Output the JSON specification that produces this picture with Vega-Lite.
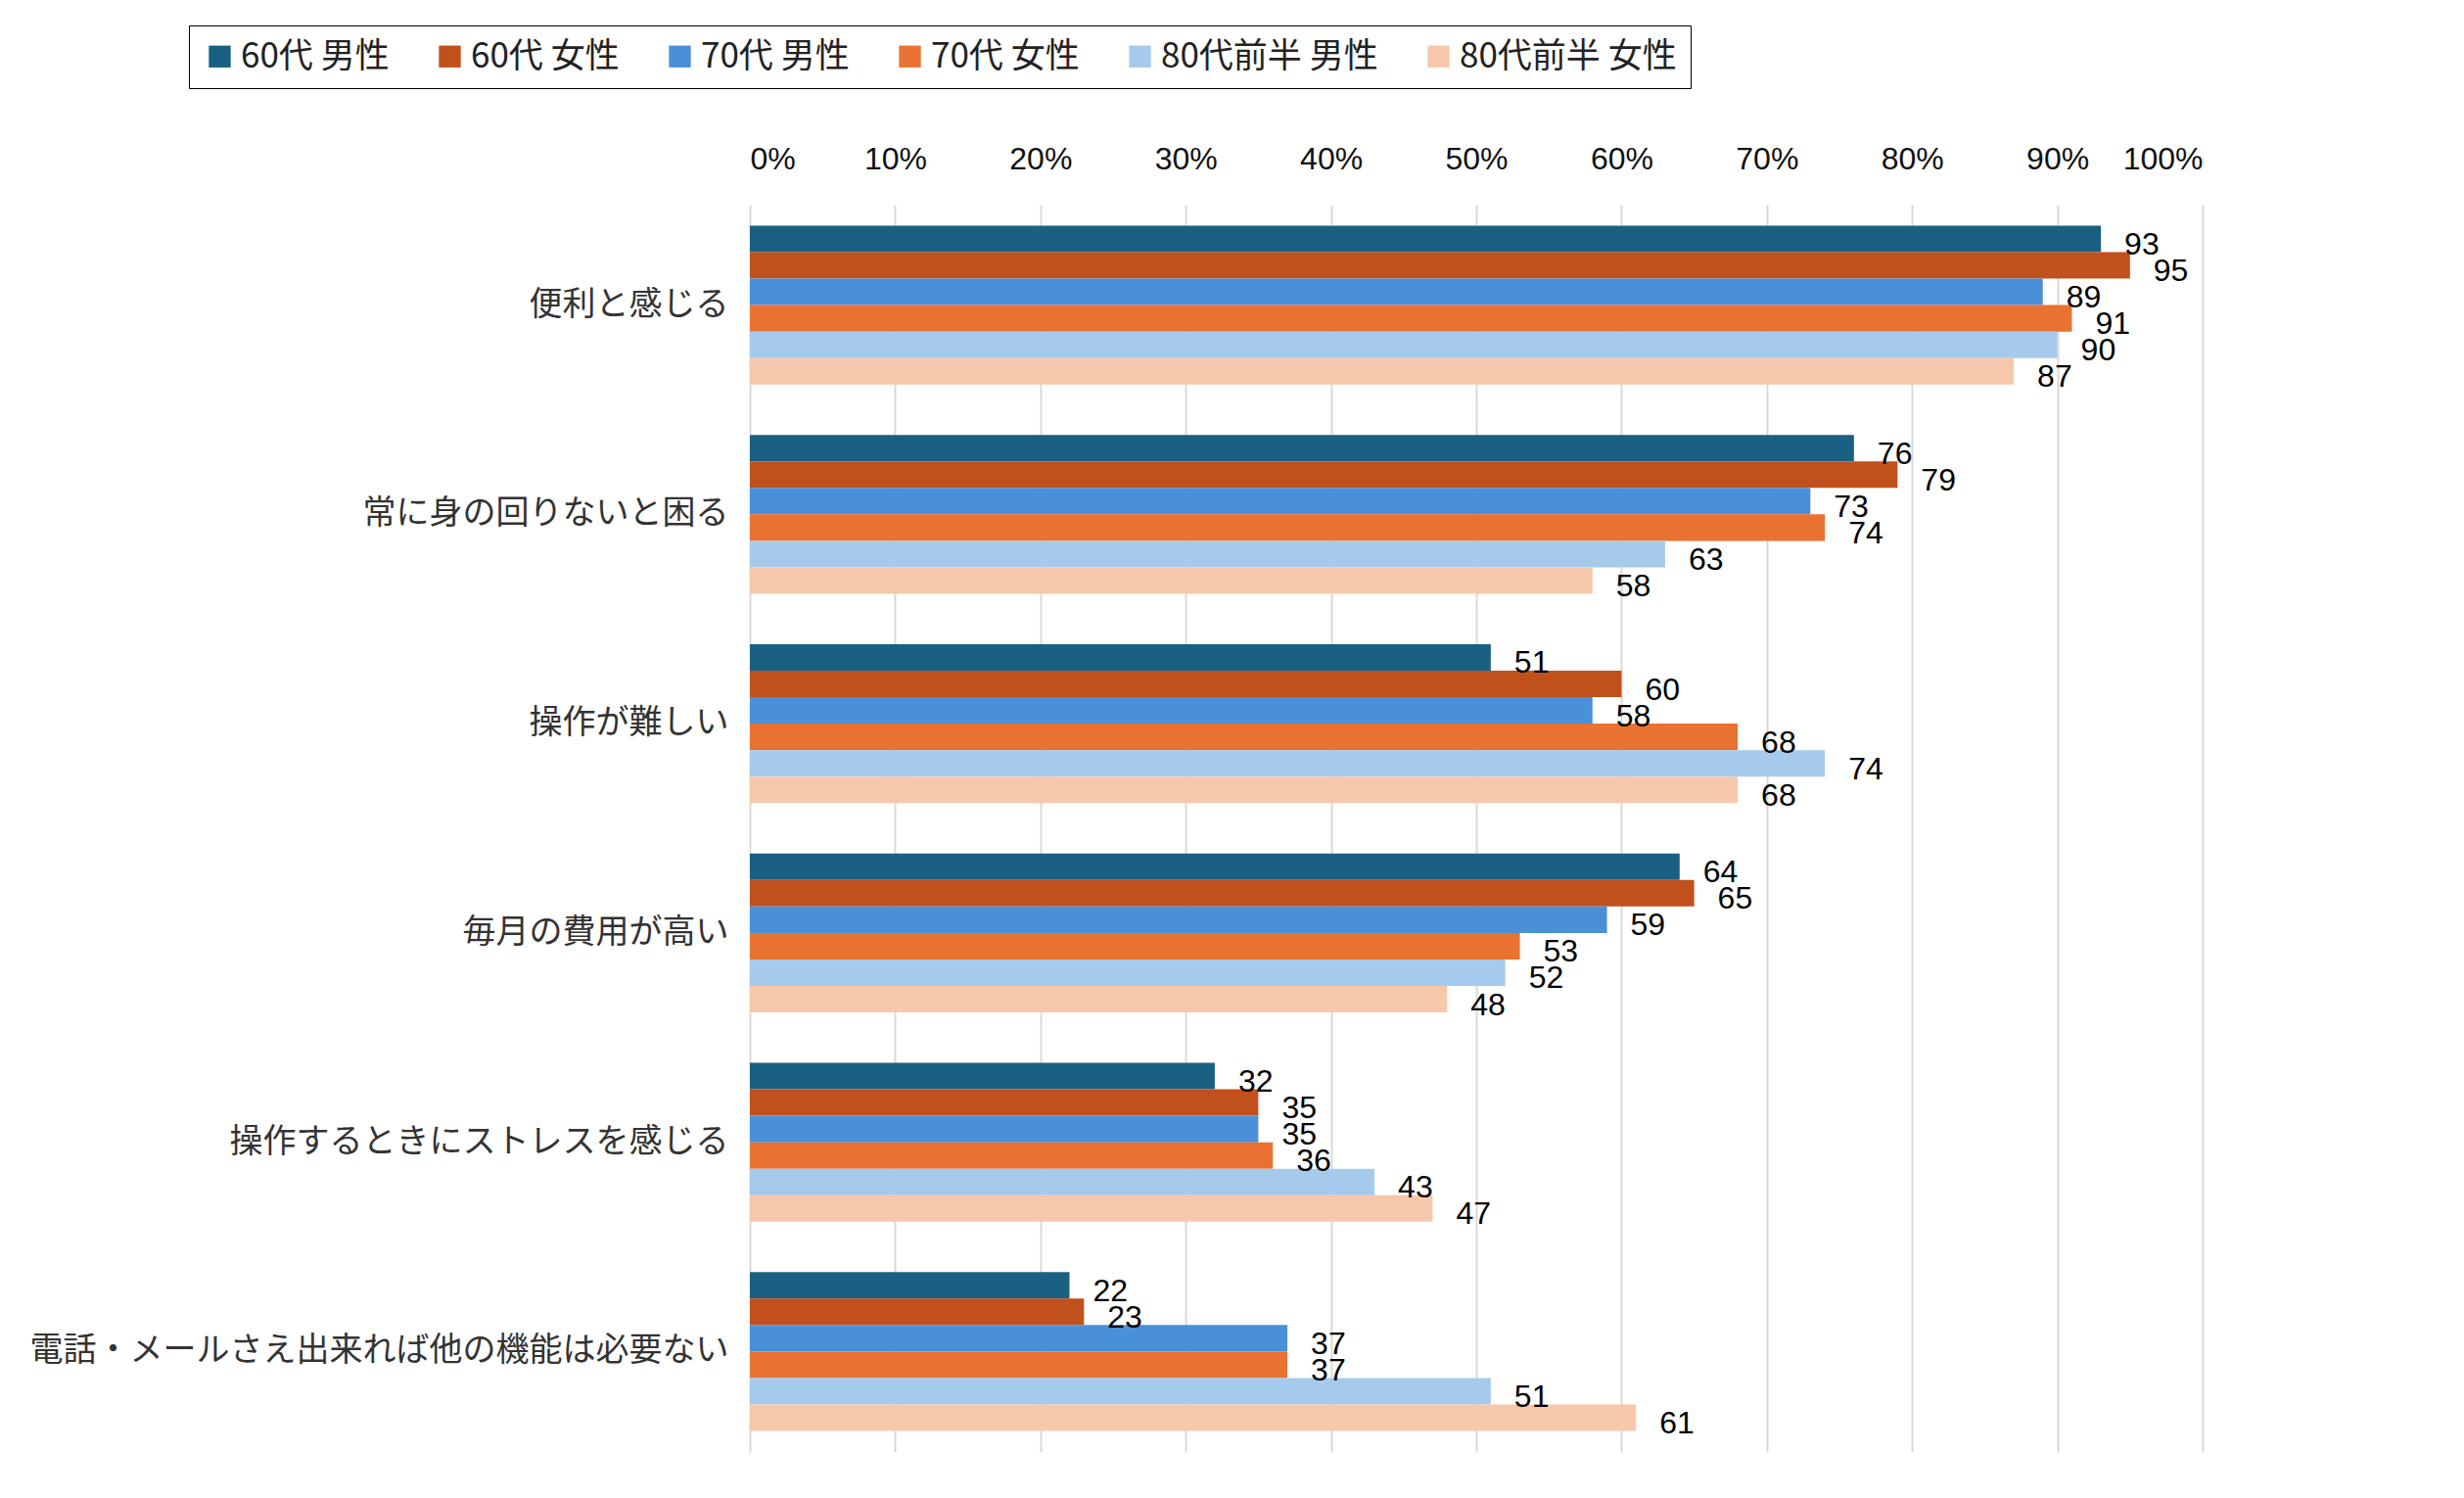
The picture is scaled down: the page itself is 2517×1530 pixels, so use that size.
{
  "$schema": "https://vega.github.io/schema/vega-lite/v6.json",
  "width": 1484,
  "height": 1274,
  "padding": {"left": 30, "top": 25, "right": 80, "bottom": 40},
  "background": "white",
  "config": {"view": {"stroke": null}, "font": "Noto Sans CJK JP"},
  "data": {"values": [
    {"item": "便利と感じる", "series": "60代 男性", "v": 93},
    {"item": "便利と感じる", "series": "60代 女性", "v": 95},
    {"item": "便利と感じる", "series": "70代 男性", "v": 89},
    {"item": "便利と感じる", "series": "70代 女性", "v": 91},
    {"item": "便利と感じる", "series": "80代前半 男性", "v": 90},
    {"item": "便利と感じる", "series": "80代前半 女性", "v": 87},
    {"item": "常に身の回りないと困る", "series": "60代 男性", "v": 76},
    {"item": "常に身の回りないと困る", "series": "60代 女性", "v": 79},
    {"item": "常に身の回りないと困る", "series": "70代 男性", "v": 73},
    {"item": "常に身の回りないと困る", "series": "70代 女性", "v": 74},
    {"item": "常に身の回りないと困る", "series": "80代前半 男性", "v": 63},
    {"item": "常に身の回りないと困る", "series": "80代前半 女性", "v": 58},
    {"item": "操作が難しい", "series": "60代 男性", "v": 51},
    {"item": "操作が難しい", "series": "60代 女性", "v": 60},
    {"item": "操作が難しい", "series": "70代 男性", "v": 58},
    {"item": "操作が難しい", "series": "70代 女性", "v": 68},
    {"item": "操作が難しい", "series": "80代前半 男性", "v": 74},
    {"item": "操作が難しい", "series": "80代前半 女性", "v": 68},
    {"item": "毎月の費用が高い", "series": "60代 男性", "v": 64},
    {"item": "毎月の費用が高い", "series": "60代 女性", "v": 65},
    {"item": "毎月の費用が高い", "series": "70代 男性", "v": 59},
    {"item": "毎月の費用が高い", "series": "70代 女性", "v": 53},
    {"item": "毎月の費用が高い", "series": "80代前半 男性", "v": 52},
    {"item": "毎月の費用が高い", "series": "80代前半 女性", "v": 48},
    {"item": "操作するときにストレスを感じる", "series": "60代 男性", "v": 32},
    {"item": "操作するときにストレスを感じる", "series": "60代 女性", "v": 35},
    {"item": "操作するときにストレスを感じる", "series": "70代 男性", "v": 35},
    {"item": "操作するときにストレスを感じる", "series": "70代 女性", "v": 36},
    {"item": "操作するときにストレスを感じる", "series": "80代前半 男性", "v": 43},
    {"item": "操作するときにストレスを感じる", "series": "80代前半 女性", "v": 47},
    {"item": "電話・メールさえ出来れば他の機能は必要ない", "series": "60代 男性", "v": 22},
    {"item": "電話・メールさえ出来れば他の機能は必要ない", "series": "60代 女性", "v": 23},
    {"item": "電話・メールさえ出来れば他の機能は必要ない", "series": "70代 男性", "v": 37},
    {"item": "電話・メールさえ出来れば他の機能は必要ない", "series": "70代 女性", "v": 37},
    {"item": "電話・メールさえ出来れば他の機能は必要ない", "series": "80代前半 男性", "v": 51},
    {"item": "電話・メールさえ出来れば他の機能は必要ない", "series": "80代前半 女性", "v": 61}
  ]},
  "encoding": {
    "y": {"field": "item", "type": "nominal", "sort": null, "title": null,
      "scale": {"paddingInner": 0.24, "paddingOuter": 0.1},
      "axis": {"ticks": false, "domain": false, "labelFontSize": 34, "labelColor": "#333", "labelPadding": 22, "labelLimit": 1200}},
    "yOffset": {"field": "series", "type": "nominal", "sort": ["60代 男性", "60代 女性", "70代 男性", "70代 女性", "80代前半 男性", "80代前半 女性"]},
    "x": {"field": "v", "type": "quantitative", "title": null,
      "scale": {"domain": [0, 100]},
      "axis": {"orient": "top", "values": [0,10,20,30,40,50,60,70,80,90,100], "labelExpr": "datum.value + '%'", "labelFontSize": 32, "labelColor": "#111", "labelFont": "Liberation Sans", "ticks": false, "domain": false, "gridColor": "#d9d9d9", "gridWidth": 2, "labelPadding": 30}}
  },
  "layer": [
    {"mark": {"type": "bar"},
     "encoding": {"color": {"field": "series", "type": "nominal", "title": null,
       "sort": ["60代 男性", "60代 女性", "70代 男性", "70代 女性", "80代前半 男性", "80代前半 女性"],
       "scale": {"range": ["#1A6083", "#C0501C", "#4A90D9", "#E97132", "#A6CAEC", "#F7C7AC"]},
       "legend": {"orient": "none", "legendX": -573, "legendY": -183, "direction": "horizontal", "columns": 6,
         "symbolType": "square", "symbolSize": 500, "symbolStrokeWidth": 0, "labelFontSize": 35, "labelColor": "#222",
         "columnPadding": 44, "padding": 14, "strokeColor": "black", "labelLimit": 400}}}},
    {"mark": {"type": "text", "align": "left", "dx": 24, "dy": 6, "fontSize": 32, "font": "Liberation Sans", "color": "black"},
     "encoding": {"text": {"field": "v", "type": "quantitative"}}}
  ]
}
